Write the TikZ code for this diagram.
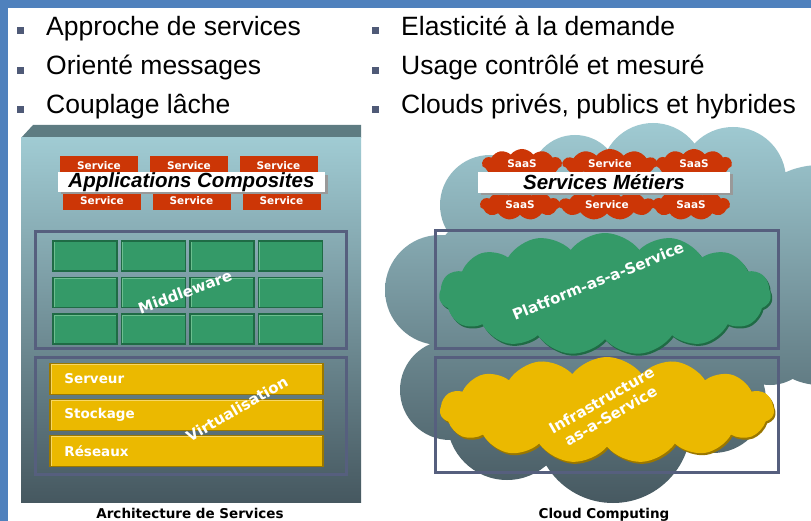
\documentclass[tikz,border=0pt]{standalone}
\usepackage{fontspec}
\setmainfont{Liberation Sans}
\newfontfamily\verdfont{DejaVu Sans}
\usetikzlibrary{positioning}
\usetikzlibrary{shapes.symbols}
\usetikzlibrary{shadows}

\definecolor{bandblue}{HTML}{4F81BD}
\definecolor{bulletgray}{HTML}{4F5A77}
\definecolor{skytop}{HTML}{A0CBD3}
\definecolor{slatebot}{HTML}{465860}
\definecolor{topface}{HTML}{5E7C82}
\definecolor{svcred}{HTML}{CC3606}
\definecolor{framegray}{HTML}{565F7E}
\definecolor{midgreen}{HTML}{349A68}
\definecolor{darkgreen}{HTML}{1F6B45}
\definecolor{litegreen}{HTML}{6CBF8F}
\definecolor{bargold}{HTML}{EBB900}
\definecolor{bardark}{HTML}{9A7700}
\definecolor{barlite}{HTML}{F6D766}

\begin{document}
\begin{tikzpicture}[x=1pt, y=-1pt,
  bullet/.style={fill=bulletgray, minimum size=7pt, inner sep=0pt},
  item/.style={anchor=base west, inner sep=0pt, font=\fontsize{26.5}{30}\selectfont},
  frame/.style={draw=framegray, line width=3pt},
  block/.style={minimum width=64pt, minimum height=30pt, inner sep=0pt, fill=midgreen,
    draw=darkgreen, line width=1.5pt,
    path picture={\draw[litegreen, line width=3pt] (path picture bounding box.south west)
      -- (path picture bounding box.north west) -- (path picture bounding box.north east);}},
  bar/.style={minimum width=273pt, minimum height=31pt, inner sep=0pt, fill=bargold,
    draw=bardark, line width=1.5pt,
    path picture={\draw[barlite, line width=3pt] (path picture bounding box.south west)
      -- (path picture bounding box.north west) -- (path picture bounding box.north east);}},
  barlabel/.style={anchor=west, inner sep=0pt, text=white, font=\verdfont\bfseries\fontsize{13.5}{14}\selectfont},
  svc/.style={minimum width=78pt, minimum height=19pt, inner sep=0pt, fill=svcred,
    text=white, font=\verdfont\bfseries\fontsize{10.5}{11}\selectfont},
  saas/.style={cloud, cloud puffs=11, cloud puff arc=105, cloud ignores aspect, minimum width=80pt, minimum height=30pt,
    inner sep=0pt, fill=svcred, text=white, font=\verdfont\bfseries\fontsize{10.5}{11}\selectfont},
  banner/.style={fill=white, inner sep=0pt, drop shadow={shadow xshift=2.5pt, shadow yshift=-2.5pt, fill=gray!80, opacity=1},
    font=\bfseries\itshape\fontsize{20.5}{20}\selectfont},
  bigcloud/.style={cloud, cloud puffs=15, cloud puff arc=105, cloud ignores aspect, inner sep=0pt},
  tilted/.style={text=white, inner sep=0pt, align=center, font=\verdfont\bfseries\fontsize{15}{18}\selectfont},
  caption/.style={anchor=base, inner sep=0pt, font=\verdfont\bfseries\fontsize{13.5}{14}\selectfont}]

\useasboundingbox (0,0) rectangle (811,521);
\clip (0,0) rectangle (811,521);
\fill[white] (0,0) rectangle (811,521);
\fill[bandblue] (0,0) rectangle (811,8);
\fill[bandblue] (0,0) rectangle (8,521);

\path (20.5,31) node[bullet] (b1) {};
\path (20.5,71) node[bullet] (b2) {};
\path (20.5,110) node[bullet] (b3) {};
\path (46,36) node[item] (t1) {Approche de services};
\path (46,75) node[item] (t2) {Orienté messages};
\path (46,114) node[item] (t3) {Couplage lâche};
\path (375.5,31) node[bullet] (b4) {};
\path (375.5,71) node[bullet] (b5) {};
\path (375.5,110) node[bullet] (b6) {};
\path (401,36) node[item] (t4) {Elasticité à la demande};
\path (401,75) node[item] (t5) {Usage contrôlé et mesuré};
\path (401,114) node[item] (t6) {Clouds privés, publics et hybrides};

\fill[topface] (21,138) -- (33,125) -- (361,125) -- (361,138) -- cycle;
\shade[top color=skytop, bottom color=slatebot] (21,138) rectangle (361,502);

\path (99,166) node[svc] (s1) {Service};
\path (189,166) node[svc] (s2) {Service};
\path (278.5,166) node[svc] (s3) {Service};
\path (102,201) node[svc] (s4) {Service};
\path (191.5,201) node[svc] (s5) {Service};
\path (281.5,201) node[svc] (s6) {Service};
\path (191.5,182) node[banner, minimum width=267pt, minimum height=19pt] (apps) {Applications Composites};

\draw[frame] (35,232) rectangle (346,348);
\foreach \r in {0,1,2}
  \foreach \c in {0,1,2,3}
    \path (85+68.5*\c, 256+36.5*\r) node[block] (g\r\c) {};
\path (185,292) node[tilted, rotate=20] (mw) {Middleware};

\draw[frame] (35,357) rectangle (346,474);
\path (186.5,379) node[bar] (serveur) {};
\path (186.5,415) node[bar] (stockage) {};
\path (186.5,451) node[bar] (reseaux) {};
\node[barlabel, right=15pt of serveur.west] {Serveur};
\node[barlabel, right=15pt of stockage.west] {Stockage};
\node[barlabel, right=15pt of reseaux.west] {Réseaux};
\path (237,409) node[tilted, rotate=30] (virt) {Virtualisation};

\begin{scope}
  \clip (490,205) circle (50pt) (575,180) circle (45pt) (653,175) circle (52pt)
        (733,180) circle (53pt) (820,250) circle (85pt) (820,320) circle (65pt)
        (440,290) circle (55pt) (450,390) circle (50pt) (507,420) circle (60pt)
        (613,425) circle (78pt) (713,400) circle (53pt) (770,340) circle (45pt)
        (610,300) ellipse (190pt and 130pt);
  \shade[top color=skytop, bottom color=slatebot] (380,120) rectangle (811,505);
\end{scope}

\path (522,164) node[saas] (c1) {SaaS};
\path (610,164) node[saas, minimum width=95pt] (c2) {Service};
\path (694,164) node[saas, minimum width=76pt] (c3) {SaaS};
\path (520,205) node[saas] (c4) {SaaS};
\path (607,205) node[saas, minimum width=97pt] (c5) {Service};
\path (691,205) node[saas, minimum width=78pt] (c6) {SaaS};
\path (604,182.5) node[banner, minimum width=252pt, minimum height=21pt] (metiers) {Services Métiers};

\draw[frame] (435,231) rectangle (778,348);
\path (605,294) node[bigcloud, minimum width=332pt, minimum height=122pt,
  fill=midgreen, drop shadow={shadow xshift=1.5pt, shadow yshift=-2pt, fill=darkgreen, opacity=1}] (paas) {};
\path (598,281) node[tilted, rotate=22] (paastext) {Platform-as-a-Service};

\draw[frame] (435,357) rectangle (778,472);
\path (607,410) node[bigcloud, minimum width=334pt, minimum height=106pt,
  fill=bargold, drop shadow={shadow xshift=1.5pt, shadow yshift=-2pt, fill=bardark, opacity=1}] (iaas) {};
\path (606,408) node[tilted, rotate=30] (iaastext) {Infrastructure\\as-a-Service};

\path (190,518) node[caption] (archcap) {Architecture de Services};
\path (604,518) node[caption] (cloudcap) {Cloud Computing};
\end{tikzpicture}
\end{document}
